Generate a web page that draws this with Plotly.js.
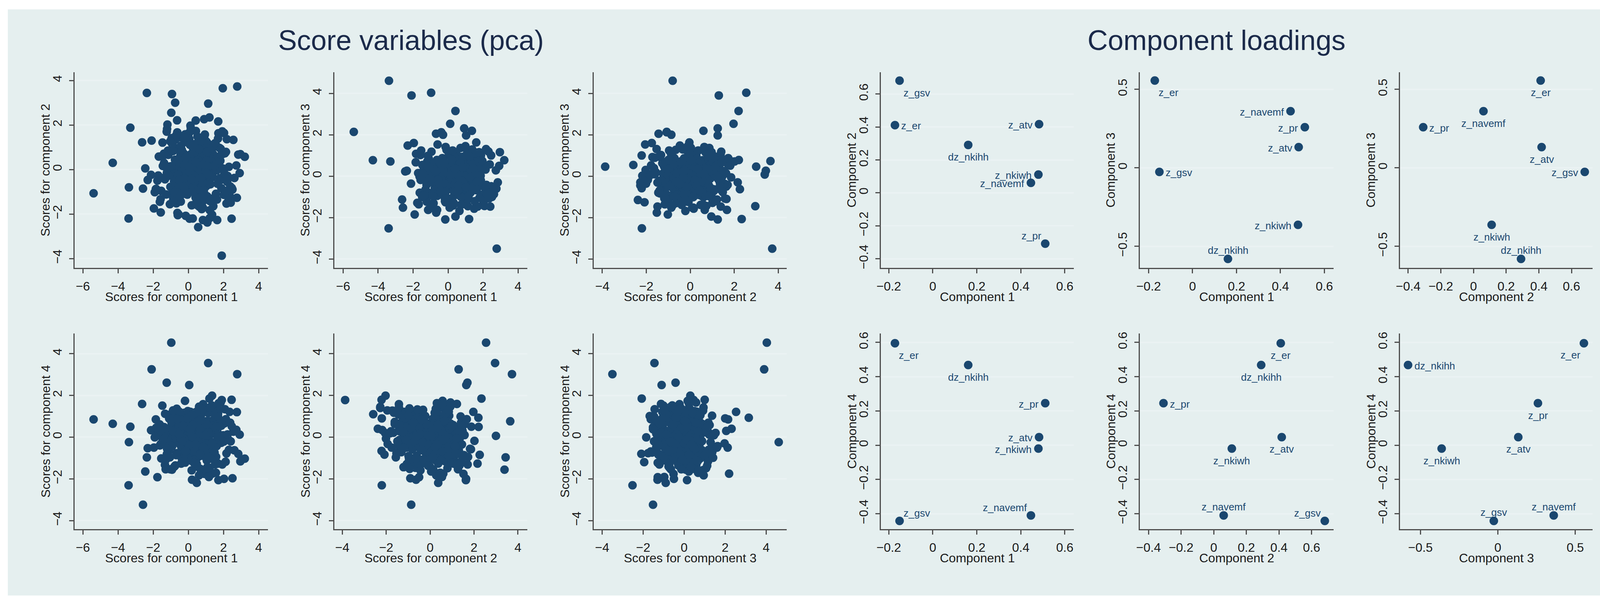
<!DOCTYPE html>
<html>
<head>
<meta charset="utf-8">
<script src="https://cdn.plot.ly/plotly-3.0.1.min.js"></script>
<style>
html,body{margin:0;padding:0;background:#ffffff;}
#chart{width:4173px;height:1557px;}
</style>
</head>
<body>
<div id="chart"></div>
<script>
// ---------------- DATA ----------------
// PCA scores (one entry per observation; first block = outlying observations, then the dense core)
const score1 = [
-5.39,-4.30,-3.38,-3.40,-3.30,-2.09,-0.97,0.42,0.12,2.78,1.96,1.90,1.13,-1.23,0.05,-2.58,1.20,-2.36,-0.93,-0.75,
2.46,2.76,3.21,2.96,2.92,0.92,1.03,1.36,-0.16,0.42,-0.69,-0.39,-0.29,-1.96,-0.60,1.35,1.64,-0.62,1.22,-0.56,
0.07,0.25,0.56,1.08,0.90,1.70,2.03,0.48,0.21,-1.76,2.51,-1.62,
0.12,-0.45,0.88,1.34,-1.02,0.27,0.63,-0.18,1.75,0.41,
-0.76,0.95,0.05,1.21,-1.38,0.56,2.08,-0.33,0.78,0.19,
1.47,-0.62,0.34,-1.85,0.91,1.12,-0.07,0.66,2.35,-0.91,
0.23,1.58,-0.28,0.84,-1.14,0.47,1.93,0.02,-0.54,1.29,
0.71,-1.57,0.38,1.05,-0.12,2.21,0.59,-0.83,1.36,0.14,
-2.12,0.82,1.63,-0.39,0.29,1.01,-0.97,0.53,2.47,-0.21,
0.96,-1.26,0.44,1.42,-0.05,0.74,-0.68,1.84,0.31,-1.71,
1.17,0.08,-0.47,0.87,1.69,-0.15,0.51,-2.31,1.24,0.36,
-0.88,0.69,2.62,-0.26,1.08,0.17,-1.19,0.93,1.51,-0.58,
0.26,1.88,-0.36,0.62,-1.48,1.15,0.03,0.79,-0.71,2.14,
0.48,-1.01,1.32,0.11,0.86,-0.43,1.71,-0.09,0.57,-1.63,
1.98,0.33,-0.66,1.09,0.21,-2.45,0.76,1.44,-0.31,0.98,
-0.95,0.39,2.73,0.06,-0.52,1.27,0.64,-1.33,1.56,0.18,
0.89,-0.19,2.02,-0.79,0.43,1.19,-1.09,0.68,0.15,1.61,
-0.41,2.29,0.54,-1.22,0.97,0.25,-0.64,1.38,0.72,-1.91,
1.03,-0.24,0.61,2.56,-0.87,0.35,1.26,-0.14,0.83,-1.45,
1.79,0.09,-0.72,1.13,0.46,-0.37,2.41,0.58,-1.11,0.94,
0.28,-0.57,1.66,0.01,-2.63,0.77,1.39,-0.27,1.06,0.42,
-0.81,2.19,0.65,-0.11,1.22,-1.29,0.37,1.87,-0.49,0.73,
2.84,-0.03,0.52,-1.54,1.31,0.16,-0.93,0.99,1.57,-0.22,
0.35,-0.12,0.58,0.91,-0.37,0.14,0.72,0.46,-0.05,1.08,
0.22,0.63,-0.48,0.39,0.84,0.07,-0.21,0.55,1.17,0.31,
-0.63,0.44,0.18,0.97,-0.09,0.66,0.29,-0.34,0.81,0.52,
1.24,0.03,0.41,-0.16,0.74,0.25,0.59,-0.52,0.93,0.11,
0.47,0.86,-0.27,0.33,1.02,-0.02,0.69,0.19,-0.41,0.77,
0.38,1.31,-0.11,0.57,0.08,0.89,-0.58,0.43,0.27,0.71,
-0.19,1.12,0.49,0.16,-0.31,0.83,0.36,0.62,-0.07,0.95,
0.24,-0.44,0.78,0.53,1.05,0.12,-0.24,0.67,0.34,0.87,
-1.32,0.94,1.61,-0.74,0.28,1.95,-1.05,0.61,1.38,-0.18,
2.12,-0.57,0.83,1.49,-1.47,0.37,1.07,-0.86,1.73,0.04,
-0.29,1.26,-1.68,0.71,2.31,-0.41,0.52,1.14,-1.16,0.88,
1.82,-0.63,0.19,1.57,-1.39,0.96,0.45,-0.92,2.05,0.13,
-1.58,1.33,0.67,-0.33,1.69,-0.79,0.26,2.23,-1.21,0.79,
1.11,-0.48,1.86,0.32,-1.83,0.58,1.42,-0.15,0.99,-1.03,
2.38,0.09,-0.69,1.23,0.55,-1.27,1.77,-0.06,0.84,-0.51,
1.52,0.21,-1.44,1.04,2.17,-0.87,0.41,1.66,-0.22,0.73
];
const score2 = [
-1.07,0.30,-0.80,-2.20,1.88,1.30,2.55,2.20,1.97,3.73,3.65,-3.87,2.96,1.70,1.65,-0.86,2.34,3.44,3.39,3.00,
-2.21,-1.27,0.57,0.69,-0.16,1.25,1.25,0.60,1.25,0.96,-1.44,-1.07,-0.86,-1.75,-2.05,-2.03,-2.27,-1.95,-2.18,-2.01,
-2.21,-2.20,-2.59,-2.38,2.26,2.16,1.64,0.37,-0.64,-0.50,-0.90,-1.45,
-0.35,0.62,-0.14,0.91,-0.78,0.23,1.17,-0.51,0.08,-1.26,
0.44,-0.02,1.38,-0.67,0.29,-1.04,0.73,-0.21,0.55,-1.61,
0.12,0.96,-0.43,-0.88,1.52,0.35,-0.29,0.81,-1.18,0.04,
-0.59,1.09,0.27,-1.42,0.66,-0.11,1.71,-0.74,0.19,-0.33,
0.87,-1.93,0.41,-0.06,1.24,-0.55,0.31,-0.97,0.58,1.86,
-0.24,0.15,-1.35,0.76,-0.41,1.02,-0.16,0.49,-0.83,0.21,
1.31,-1.12,-0.09,0.68,-0.62,0.39,-1.52,0.93,0.06,-0.27,
0.54,-0.71,1.45,-0.19,0.25,-2.08,0.83,-0.47,0.11,1.14,
-0.92,0.33,-0.38,0.72,-1.21,0.47,2.02,-0.58,0.17,-0.13,
0.97,-0.84,0.36,-1.67,0.61,0.02,-0.45,1.28,-0.31,0.79,
-1.06,0.14,0.89,-0.23,0.42,-1.44,1.63,-0.66,0.09,-0.36,
0.71,-0.98,0.26,1.19,-0.52,0.05,-1.78,0.63,-0.17,0.48,
1.41,-0.69,0.18,-0.08,0.85,-1.31,0.38,-0.44,1.05,-0.26,
-0.81,0.57,-1.14,0.22,1.73,-0.49,0.13,-0.93,0.69,-0.04,
0.34,-1.39,0.94,-0.15,0.51,-0.76,2.21,-0.32,0.07,-1.02,
0.78,-0.57,0.28,1.33,-1.24,0.45,-0.12,0.64,-2.27,0.16,
-0.39,1.11,-0.72,0.32,-0.01,0.88,-1.49,0.53,-0.28,1.57,
0.24,-0.86,0.43,-0.18,1.22,-0.61,0.01,-1.09,0.75,0.37,
-0.53,1.36,-0.22,0.59,-1.83,0.11,0.92,-0.46,0.27,-0.73,
0.67,-0.34,1.48,-0.96,0.19,-0.07,0.82,-1.16,0.46,-0.25,
-0.22,0.31,-0.58,0.07,-0.14,0.46,-0.37,0.19,-0.71,0.02,
0.55,-0.29,0.13,-0.48,0.38,-0.06,-0.83,0.26,-0.19,0.61,
-0.41,0.09,-0.63,0.35,-0.11,0.72,-0.34,-0.02,0.48,-0.55,
0.17,-0.27,0.84,-0.46,0.04,-0.16,0.41,-0.67,0.23,-0.09,
-0.38,0.57,-0.21,0.11,-0.75,0.29,-0.04,0.66,-0.31,0.15,
-0.52,0.36,-0.13,-0.88,0.21,0.49,-0.24,0.06,-0.44,0.32,
0.01,-0.61,0.43,-0.18,0.27,-0.35,0.78,-0.07,-0.50,0.14,
-0.26,0.52,-0.69,0.08,0.39,-0.12,-0.42,0.24,-0.30,0.18,
0.68,-1.19,0.27,1.34,-0.81,0.05,-1.56,0.92,-0.34,1.58,
-0.97,0.43,-1.72,0.16,1.21,-0.52,0.79,-1.38,0.31,-0.08,
1.46,-0.66,0.58,-1.27,0.12,1.07,-1.61,-0.23,0.85,-0.94,
0.39,1.67,-0.44,-1.09,0.71,0.03,-1.49,1.15,-0.18,0.49,
-1.33,0.94,0.21,-0.72,1.39,-1.04,0.36,-0.29,1.82,-0.58,
0.14,-1.21,0.65,1.01,-0.87,0.28,-1.65,0.53,-0.11,1.27,
-0.76,0.09,1.54,-1.42,0.42,-0.31,0.97,-1.13,0.22,-0.47,
1.18,-0.99,0.61,-0.16,-1.53,0.83,0.34,-0.64,1.43,-0.39
];
const score3 = [
2.14,0.77,4.61,-2.52,0.71,3.90,4.03,3.15,2.53,-3.50,0.73,0.46,-1.45,-0.42,-1.10,-1.52,-2.07,0.26,0.08,0.46,
1.00,-0.60,0.77,1.16,0.50,2.31,1.97,2.19,-2.09,-1.95,2.05,2.12,2.00,1.60,1.53,0.30,-0.30,-0.10,0.02,-0.36,
-0.58,-0.36,0.54,-1.15,-0.63,-0.30,-0.50,-0.90,-1.30,-1.29,-1.00,-0.80,
0.21,-0.46,0.63,-0.12,-0.88,0.35,0.04,-1.21,0.77,-0.33,
-0.57,0.18,1.05,-0.71,0.42,-0.09,-1.44,0.56,-0.26,0.89,
-0.15,-0.95,0.31,0.67,-0.52,1.22,-0.38,0.08,-1.07,0.48,
0.13,-0.64,0.82,-0.23,-1.63,0.27,0.59,-0.41,0.02,-0.79,
1.36,-0.18,0.39,-0.93,0.11,-0.55,0.74,-1.31,0.24,-0.06,
-0.36,0.93,-0.68,0.16,0.51,-1.15,-0.28,0.69,-0.49,0.07,
0.44,-0.83,1.12,-0.14,-0.61,0.29,-1.76,0.58,-0.31,0.15,
-0.97,0.36,-0.03,0.81,-0.44,-1.26,0.22,1.48,-0.72,0.05,
0.63,-0.21,-0.87,0.41,0.12,-1.39,0.71,-0.51,0.26,-0.11,
-0.66,1.01,-0.34,0.19,-1.01,0.55,-0.17,0.84,-0.59,0.32,
0.09,-1.52,0.47,-0.25,0.66,-0.78,0.14,1.27,-0.43,-0.02,
-0.89,0.38,-0.13,0.76,-1.18,0.23,0.52,-0.63,0.03,-0.35,
1.18,-0.47,0.28,-1.09,0.61,-0.19,-0.74,0.45,0.99,-0.29,
-0.56,0.17,-1.33,0.34,0.87,-0.08,-0.81,0.49,-0.39,1.63,
0.06,-0.69,0.25,-1.23,0.57,-0.16,0.78,-0.53,-0.01,-1.85,
0.40,-0.27,0.95,-0.62,0.13,-0.92,0.33,1.41,-0.45,0.21,
-1.05,0.62,-0.22,0.10,-0.76,0.53,-1.47,0.30,0.86,-0.37,
-0.12,0.72,-0.58,0.20,-1.13,0.43,1.09,-0.32,-0.84,0.16,
0.64,-0.42,-1.68,0.37,0.04,-0.65,0.92,-0.20,0.27,-0.99,
-0.30,0.50,-0.77,1.24,-0.10,-0.54,0.35,-1.36,0.68,-0.07,
0.12,-0.33,0.27,-0.58,0.05,-0.19,0.44,-0.07,-0.46,0.21,
-0.28,0.36,-0.62,0.09,-0.14,0.52,-0.39,0.17,-0.03,-0.71,
0.31,-0.22,0.06,-0.49,0.41,-0.11,0.24,-0.56,0.14,-0.31,
0.58,-0.04,-0.43,0.19,-0.25,0.34,-0.66,0.02,0.29,-0.17,
-0.52,0.11,0.47,-0.36,-0.08,0.23,-0.60,0.38,-0.13,0.04,
-0.29,0.63,-0.45,0.16,-0.21,-0.02,0.32,-0.54,0.08,0.26,
-0.37,0.13,-0.09,0.49,-0.68,0.20,-0.16,0.35,-0.41,0.01,
0.28,-0.24,-0.50,0.15,0.42,-0.12,-0.34,0.07,0.22,-0.27,
-0.91,0.47,1.13,-0.28,-1.42,0.74,0.18,-0.65,1.29,-1.08,
0.36,-0.17,0.92,-1.57,0.54,-0.41,1.07,-0.83,0.23,-1.24,
0.81,-0.06,-1.36,0.62,1.19,-0.72,0.09,-1.11,0.98,-0.49,
0.29,-1.63,0.71,0.14,-0.94,1.37,-0.31,0.45,-1.19,0.06,
1.02,-0.58,-0.19,0.87,-1.47,0.33,1.24,-0.86,0.51,-0.24,
-1.01,0.68,0.02,-1.29,1.08,-0.45,0.39,-0.77,1.45,-0.14,
0.57,-1.52,0.25,0.94,-0.68,-0.09,1.16,-1.06,0.43,-0.37,
-1.21,0.79,0.11,-0.53,1.31,-0.96,0.35,-0.27,0.66,-1.39
];
const score4 = [
0.85,0.64,-0.24,-2.31,0.50,3.25,4.53,0.93,1.21,3.02,0.76,1.78,3.55,2.61,2.50,-3.24,1.85,-0.97,-1.56,0.06,
1.79,1.20,-1.03,-1.16,0.12,0.40,-0.30,-1.75,-0.80,-1.20,0.30,-0.50,0.90,-0.50,0.20,1.99,1.40,1.28,0.34,-0.07,
-0.66,0.90,1.10,0.40,-0.85,-1.27,-2.00,-2.19,-2.04,-1.92,-1.97,-0.40,
-0.28,0.54,-0.83,0.17,1.09,-0.46,0.36,-1.22,0.71,-0.07,
0.92,-0.61,0.23,-1.47,0.48,-0.15,1.34,-0.74,0.06,0.63,
-1.03,0.31,-0.38,0.85,-1.76,0.12,0.57,-0.52,1.21,-0.23,
0.41,-0.94,0.14,1.58,-0.69,0.27,-1.31,0.79,-0.11,-0.47,
1.03,-0.33,0.46,-1.12,0.19,0.73,-0.86,-0.02,1.42,-0.58,
0.33,-1.58,0.67,-0.19,0.95,-0.41,0.08,-0.97,0.52,1.17,
-0.64,0.24,-1.37,0.38,-0.09,0.81,-0.77,1.66,-0.26,0.15,
-1.91,0.59,-0.35,0.44,1.13,-0.84,0.02,-0.53,0.76,-1.19,
0.29,0.98,-0.63,0.11,-1.44,0.66,-0.18,1.27,-0.88,0.37,
-0.12,0.55,-1.05,0.21,1.51,-0.49,0.39,-0.79,0.04,0.86,
-1.29,0.47,-0.24,0.72,-0.56,1.08,-2.06,0.16,-0.37,0.61,
0.09,-0.91,1.36,-0.31,0.50,-1.65,0.28,0.83,-0.45,-0.05,
0.69,-1.08,0.35,-0.16,1.22,-0.72,0.13,-1.33,0.58,0.25,
-0.59,1.74,-0.21,0.42,-0.95,0.07,0.89,-1.52,0.32,-0.43,
1.04,-0.13,0.64,-0.81,0.20,-1.16,0.49,1.31,-0.67,-0.01,
0.75,-0.39,-1.83,0.26,0.93,-0.55,0.14,-0.99,1.45,-0.30,
0.53,-0.71,0.03,1.16,-1.41,0.40,-0.20,0.84,-0.62,0.10,
-1.10,0.68,0.22,-0.44,1.59,-0.89,0.34,-0.14,0.77,-1.27,
0.45,-0.04,1.01,-0.66,0.18,-1.54,0.60,-0.27,0.87,-0.36,
-0.80,1.25,0.30,-1.02,0.56,-0.17,0.73,-0.48,-1.71,0.19,
0.18,-0.26,0.43,-0.11,0.05,-0.47,0.32,0.64,-0.20,0.11,
-0.38,0.27,-0.06,0.51,-0.57,0.14,0.37,-0.15,0.02,-0.69,
0.46,-0.31,0.21,0.72,-0.09,-0.44,0.34,0.08,-0.23,0.55,
-0.52,0.16,-0.02,0.41,-0.35,0.26,-0.14,0.61,-0.62,0.10,
0.29,-0.18,0.48,-0.40,0.03,0.36,-0.27,0.19,-0.08,0.67,
-0.49,0.23,0.07,-0.33,0.44,-0.12,0.31,-0.58,0.15,0.53,
-0.21,0.09,-0.45,0.38,-0.04,0.25,-0.66,0.12,0.47,-0.29,
0.01,0.33,-0.17,0.58,-0.39,0.20,-0.10,0.42,-0.53,0.06,
1.12,-0.53,0.34,-1.36,0.81,0.07,-0.97,1.46,-0.25,0.62,
-1.18,0.41,1.27,-0.74,-0.06,0.95,-1.49,0.28,1.63,-0.38,
0.54,-1.03,0.17,1.09,-0.61,-1.27,0.73,0.22,-0.89,1.38,
-0.15,0.86,-1.59,0.47,0.04,-0.71,1.21,-0.43,0.66,-1.12,
0.31,1.52,-0.82,-0.19,0.99,-1.41,0.58,0.13,-0.56,1.33,
-0.94,0.26,0.78,-1.23,0.45,-0.33,1.17,-0.67,0.09,-1.54,
0.69,0.38,-0.86,1.42,-0.21,-1.07,0.52,0.91,-0.47,0.15,
-1.31,1.05,-0.12,0.61,-0.78,1.28,-0.36,0.02,-1.15,0.84
];

// Component loadings
const loadVars = ['z_gsv','z_er','z_atv','dz_nkihh','z_nkiwh','z_navemf','z_pr'];
const load1 = [-0.151,-0.172,0.483,0.161,0.480,0.446,0.511];
const load2 = [0.681,0.411,0.417,0.291,0.111,0.061,-0.308];
const load3 = [-0.026,0.556,0.132,-0.580,-0.363,0.361,0.259];
const load4 = [-0.442,0.595,0.047,0.468,-0.020,-0.410,0.245];

// Titles and tick labels
const leftTitle = 'Score variables (pca)';
const rightTitle = 'Component loadings';
const scoreTicks = [-6,-4,-2,0,2,4];
const scoreTicks4 = [-4,-2,0,2,4];
const loadTicksA = [-0.2,0,0.2,0.4,0.6];
const loadTicksB = [-0.4,-0.2,0,0.2,0.4,0.6];
const loadTicksC = [-0.5,0,0.5];

// ---------------- STYLE / LAYOUT ----------------
const W = 4173, H = 1557;
const NAVY = '#1a476f';
const FONT = '"Liberation Sans", Arial, Helvetica, sans-serif';
const BG = '#e5efef';
const AXC = '#4d4d4d';

const cols = [[191,686],[856,1350],[1520,2014],[2255,2749],[2918,3414],[3584,4077]];
const rows = [[185,686],[854,1355]];

// label placement (Stata-like clock positions)
const POS = {
  r:  {xanchor:'left',   xshift: 14, yshift: -2},
  l:  {xanchor:'right',  xshift:-15, yshift: -2},
  b:  {xanchor:'center', xshift:  0, yshift:-31},
  t:  {xanchor:'center', xshift:  0, yshift: 22},
  br: {xanchor:'left',   xshift:  8, yshift:-31},
  bl: {xanchor:'right',  xshift: -7, yshift:-30},
  tl: {xanchor:'right',  xshift: -8, yshift: 20},
  tr: {xanchor:'left',   xshift:  8, yshift: 20}
};

const panels = [
  {xs:score1, ys:score2, xlab:'Scores for component 1', ylab:'Scores for component 2', xr:[-6.47,4.53], yr:[-4.42,4.37], xt:scoreTicks, yt:scoreTicks4, col:0, row:0},
  {xs:score1, ys:score3, xlab:'Scores for component 1', ylab:'Scores for component 3', xr:[-6.5,4.53], yr:[-4.43,5.02], xt:scoreTicks, yt:scoreTicks4, col:1, row:0},
  {xs:score2, ys:score3, xlab:'Scores for component 2', ylab:'Scores for component 3', xr:[-4.39,4.39], yr:[-4.43,5.02], xt:scoreTicks4, yt:scoreTicks4, col:2, row:0},
  {xs:score1, ys:score4, xlab:'Scores for component 1', ylab:'Scores for component 4', xr:[-6.47,4.53], yr:[-4.41,4.97], xt:scoreTicks, yt:scoreTicks4, col:0, row:1},
  {xs:score2, ys:score4, xlab:'Scores for component 2', ylab:'Scores for component 4', xr:[-4.36,4.43], yr:[-4.41,4.97], xt:scoreTicks4, yt:scoreTicks4, col:1, row:1},
  {xs:score3, ys:score4, xlab:'Scores for component 3', ylab:'Scores for component 4', xr:[-4.41,5.0], yr:[-4.41,4.97], xt:scoreTicks4, yt:scoreTicks4, col:2, row:1},
  {xs:load1, ys:load2, xlab:'Component 1', ylab:'Component 2', xr:[-0.236,0.641], yr:[-0.455,0.732], xt:loadTicksA, yt:loadTicksB, col:3, row:0,
   labels:['br','r','l','b','l','l','tl']},
  {xs:load1, ys:load3, xlab:'Component 1', ylab:'Component 3', xr:[-0.24,0.642], yr:[-0.637,0.609], xt:loadTicksA, yt:loadTicksC, col:4, row:0,
   labels:['r','br','l','t','l','l','l']},
  {xs:load2, ys:load3, xlab:'Component 2', ylab:'Component 3', xr:[-0.45,0.729], yr:[-0.637,0.609], xt:loadTicksB, yt:loadTicksC, col:5, row:0,
   labels:['l','b','b','t','b','b','r']},
  {xs:load1, ys:load4, xlab:'Component 1', ylab:'Component 4', xr:[-0.236,0.641], yr:[-0.49,0.652], xt:loadTicksA, yt:loadTicksB, col:3, row:1,
   labels:['tr','br','l','b','l','tl','l']},
  {xs:load2, ys:load4, xlab:'Component 2', ylab:'Component 4', xr:[-0.453,0.735], yr:[-0.49,0.652], xt:loadTicksB, yt:loadTicksB, col:4, row:1,
   labels:['tl','b','b','b','b','t','r']},
  {xs:load3, ys:load4, xlab:'Component 3', ylab:'Component 4', xr:[-0.632,0.612], yr:[-0.49,0.652], xt:loadTicksC, yt:loadTicksB, col:5, row:1,
   labels:['t','bl','b','r','b','t','b']}
];

function fmt(v){ return (v < 0 ? '\u2212' : '') + String(Math.abs(v)); }

const axisBase = {
  showline:true, linecolor:AXC, linewidth:3, mirror:false,
  ticks:'outside', ticklen:11, tickwidth:3, tickcolor:AXC,
  zeroline:false, fixedrange:true,
  tickfont:{family:FONT, size:32, color:'#1a1a1a'},
  ticklabelstandoff:6
};

const traces = [];
const annotations = [];
const layout = {
  width:W, height:H, autosize:false,
  margin:{l:0,r:0,t:0,b:0,pad:0},
  paper_bgcolor:'#ffffff', plot_bgcolor:'#ffffff',
  showlegend:false,
  font:{family:FONT, size:32, color:'#1a1a1a'},
  shapes:[
    {type:'rect', xref:'paper', yref:'paper', x0:20/W, x1:4146/W, y0:1-1525/H, y1:1-24/H,
     fillcolor:BG, line:{width:0}, layer:'below'}
  ],
  annotations:annotations
};

panels.forEach((p,i)=>{
  const n = i===0 ? '' : String(i+1);
  const c = cols[p.col], r = rows[p.row];
  layout['xaxis'+n] = Object.assign({}, axisBase, {
    domain:[c[0]/W, c[1]/W], range:p.xr, anchor:'y'+n,
    tickmode:'array', tickvals:p.xt, ticktext:p.xt.map(fmt),
    showgrid:false
  });
  layout['yaxis'+n] = Object.assign({}, axisBase, {
    domain:[1-r[1]/H, 1-r[0]/H], range:p.yr, anchor:'x'+n,
    tickmode:'array', tickvals:p.yt, ticktext:p.yt.map(fmt),
    tickangle:-90,
    showgrid:true, gridcolor:'#eaf2f3', gridwidth:4
  });
  traces.push({
    type:'scatter', mode:'markers', x:p.xs, y:p.ys,
    xaxis:'x'+n, yaxis:'y'+n, hoverinfo:'skip',
    marker:{color:NAVY, size:22, line:{width:0}}
  });
  // axis titles
  annotations.push({xref:'x'+n+' domain', yref:'y'+n+' domain', x:0.5, y:0, yshift:-74,
    xanchor:'center', yanchor:'middle', showarrow:false, text:p.xlab,
    font:{family:FONT, size:32, color:'#1a1a1a'}});
  annotations.push({xref:'x'+n+' domain', yref:'y'+n+' domain', x:0, y:0.5, xshift:-75,
    xanchor:'center', yanchor:'middle', textangle:-90, showarrow:false, text:p.ylab,
    font:{family:FONT, size:32, color:'#1a1a1a'}});
  // marker labels for loadings
  if (p.labels) {
    loadVars.forEach((v,k)=>{
      const pos = POS[p.labels[k]];
      annotations.push({xref:'x'+n, yref:'y'+n, x:p.xs[k], y:p.ys[k],
        text:v, showarrow:false, xanchor:pos.xanchor, yanchor:'middle',
        xshift:pos.xshift, yshift:pos.yshift,
        font:{family:FONT, size:26, color:NAVY}});
    });
  }
});

annotations.push({xref:'paper', yref:'paper', x:1052/W, y:1-103/H, xanchor:'center', yanchor:'middle',
  showarrow:false, text:leftTitle, font:{family:FONT, size:72, color:'#1b2a4a'}});
annotations.push({xref:'paper', yref:'paper', x:3114/W, y:1-103/H, xanchor:'center', yanchor:'middle',
  showarrow:false, text:rightTitle, font:{family:FONT, size:72, color:'#1b2a4a'}});

Plotly.newPlot('chart', traces, layout, {displayModeBar:false, staticPlot:true, responsive:false});
</script>
</body>
</html>
